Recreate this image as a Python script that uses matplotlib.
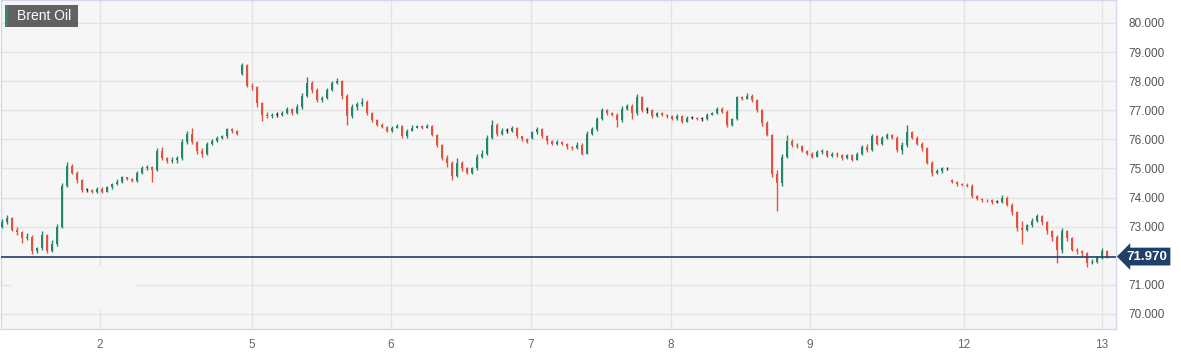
import numpy as np
import matplotlib
matplotlib.use("Agg")
import matplotlib.pyplot as plt
from matplotlib.patches import Rectangle
from matplotlib.transforms import blended_transform_factory

# 行情数据（读自原图，约每 5 像素一根 K 线）
opens = [
    73.0, 73.15, 73.3, 72.9, 72.8, 72.6, 72.65, 72.15, 72.25, 72.7,
    72.15, 72.4, 73.0, 74.4, 75.1, 74.85, 74.6, 74.25, 74.25, 74.2,
    74.3, 74.2, 74.35, 74.45, 74.55, 74.7, 74.65, 74.58, 74.85, 75.0,
    75.05, 74.95, 75.6, 75.35, 75.25, 75.3, 75.35, 75.9, 76.2, 75.9,
    75.6, 75.5, 75.85, 75.95, 76.05, 76.1, 76.35, 76.3, 78.25, 78.55,
    77.85, 77.8, 77.25, 76.85, 76.8, 76.85, 76.85, 76.9, 77.05, 76.9,
    77.1, 77.5, 77.95, 77.7, 77.35, 77.42, 77.7, 77.95, 78.0, 77.5,
    76.8, 77.1, 77.2, 77.3, 76.9, 76.65, 76.5, 76.42, 76.28, 76.4,
    76.45, 76.1, 76.3, 76.4, 76.45, 76.4, 76.45, 76.15, 75.8, 75.35,
    75.2, 74.75, 75.2, 75.0, 74.85, 75.0, 75.4, 75.5, 76.05, 76.5,
    76.2, 76.3, 76.3, 76.4, 76.1, 76.0, 76.05, 76.25, 76.35, 76.1,
    75.95, 75.85, 75.92, 75.85, 75.72, 75.7, 75.82, 75.5, 76.2, 76.35,
    76.7, 77.0, 76.9, 76.85, 76.65, 77.05, 77.15, 76.9, 77.45, 77.0,
    77.0, 76.8, 76.9, 76.85, 76.8, 76.7, 76.8, 76.6, 76.75, 76.75,
    76.7, 76.7, 76.85, 76.9, 77.05, 76.95, 76.5, 76.7, 77.45, 77.4,
    77.5, 77.35, 77.0, 76.55, 76.15, 74.8, 74.5, 75.4, 75.95, 75.8,
    75.78, 75.6, 75.5, 75.4, 75.55, 75.6, 75.42, 75.5, 75.45, 75.35,
    75.45, 75.3, 75.5, 75.75, 75.65, 76.1, 75.85, 76.05, 76.15, 76.05,
    75.65, 75.8, 76.25, 76.05, 75.85, 75.7, 75.2, 74.85, 74.9, 75.0,
    74.6, 74.55, 74.45, 74.42, 74.4, 74.05, 73.95, 73.92, 73.9, 73.85,
    73.85, 74.0, 73.75, 73.5, 72.95, 72.9, 73.05, 73.2, 73.35, 73.15,
    72.85, 72.65, 72.2, 72.85, 72.6, 72.2, 72.15, 72.1, 71.75, 71.8,
    71.95, 72.15,
]
closes = [
    73.15, 73.3, 72.9, 72.8, 72.6, 72.65, 72.15, 72.25, 72.7, 72.15,
    72.4, 73.0, 74.4, 75.1, 74.85, 74.6, 74.25, 74.25, 74.2, 74.3,
    74.2, 74.35, 74.45, 74.55, 74.7, 74.65, 74.58, 74.85, 75.0, 75.05,
    74.95, 75.6, 75.35, 75.25, 75.3, 75.35, 75.9, 76.2, 75.9, 75.6,
    75.5, 75.85, 75.95, 76.05, 76.1, 76.35, 76.3, 76.2, 78.55, 77.85,
    77.8, 77.25, 76.85, 76.8, 76.85, 76.85, 76.9, 77.05, 76.9, 77.1,
    77.5, 77.95, 77.7, 77.35, 77.42, 77.7, 77.95, 78.0, 77.5, 76.8,
    77.1, 77.2, 77.3, 76.9, 76.65, 76.5, 76.42, 76.28, 76.4, 76.45,
    76.1, 76.3, 76.4, 76.45, 76.4, 76.45, 76.15, 75.8, 75.35, 75.2,
    74.75, 75.2, 75.0, 74.85, 75.0, 75.4, 75.5, 76.05, 76.5, 76.2,
    76.3, 76.3, 76.4, 76.1, 76.0, 75.92, 76.25, 76.35, 76.1, 75.95,
    75.85, 75.92, 75.85, 75.72, 75.7, 75.82, 75.5, 76.2, 76.35, 76.7,
    77.0, 76.9, 76.85, 76.65, 77.05, 77.15, 76.9, 77.45, 77.0, 77.0,
    76.8, 76.9, 76.85, 76.8, 76.7, 76.8, 76.6, 76.75, 76.75, 76.7,
    76.7, 76.85, 76.9, 77.05, 76.95, 76.5, 76.7, 77.45, 77.4, 77.5,
    77.35, 77.0, 76.55, 76.15, 74.8, 74.5, 75.4, 75.95, 75.8, 75.78,
    75.6, 75.5, 75.4, 75.55, 75.6, 75.42, 75.5, 75.45, 75.35, 75.45,
    75.3, 75.5, 75.75, 75.65, 76.1, 75.85, 76.05, 76.15, 76.05, 75.65,
    75.8, 76.25, 76.05, 75.85, 75.7, 75.2, 74.85, 74.9, 75.0, 75.0,
    74.55, 74.45, 74.42, 74.4, 74.05, 73.95, 73.92, 73.9, 73.85, 73.85,
    74.0, 73.75, 73.5, 72.95, 72.9, 73.05, 73.2, 73.35, 73.15, 72.85,
    72.65, 72.2, 72.85, 72.6, 72.2, 72.15, 72.1, 71.75, 71.8, 71.95,
    72.15, 71.97,
]
highs = [
    73.25, 73.4, 73.32, 72.98, 72.85, 72.78, 72.7, 72.3, 72.85, 72.75,
    72.55, 73.1, 74.5, 75.22, 75.15, 74.9, 74.65, 74.32, 74.3, 74.35,
    74.35, 74.4, 74.5, 74.62, 74.75, 74.72, 74.68, 74.92, 75.08, 75.12,
    75.1, 75.7, 75.75, 75.4, 75.38, 75.42, 76.0, 76.28, 76.4, 75.95,
    75.7, 75.9, 76.0, 76.1, 76.15, 76.4, 76.38, 76.32, 78.62, 78.58,
    77.95, 77.85, 77.3, 76.95, 76.92, 76.95, 76.98, 77.12, 77.08, 77.2,
    77.58, 78.15, 78.0, 77.75, 77.48, 77.78, 78.02, 78.12, 78.05, 77.55,
    77.2, 77.3, 77.42, 77.35, 76.95, 76.7, 76.55, 76.46, 76.45, 76.52,
    76.5, 76.35, 76.48, 76.5, 76.48, 76.52, 76.48, 76.2, 75.85, 75.45,
    75.25, 75.35, 75.25, 75.05, 75.05, 75.5, 75.65, 76.15, 76.65, 76.55,
    76.38, 76.38, 76.45, 76.42, 76.12, 76.05, 76.3, 76.42, 76.38, 76.15,
    75.98, 75.98, 75.95, 75.88, 75.78, 75.9, 75.86, 76.3, 76.42, 76.78,
    77.08, 77.05, 76.95, 76.9, 77.15, 77.22, 77.2, 77.55, 77.5, 77.1,
    77.05, 76.95, 76.95, 76.88, 76.82, 76.88, 76.85, 76.8, 76.8, 76.78,
    76.76, 76.9, 76.95, 77.12, 77.1, 77.0, 76.75, 77.5, 77.5, 77.58,
    77.55, 77.4, 77.05, 76.62, 76.2, 74.95, 75.5, 76.15, 76.0, 75.88,
    75.82, 75.62, 75.55, 75.62, 75.68, 75.62, 75.55, 75.55, 75.5, 75.5,
    75.48, 75.55, 75.82, 75.85, 76.18, 76.15, 76.12, 76.22, 76.2, 76.1,
    75.9, 76.5, 76.3, 76.1, 75.9, 75.75, 75.25, 74.98, 75.05, 75.05,
    74.65, 74.58, 74.5, 74.5, 74.45, 74.08, 74.0, 73.96, 73.95, 73.92,
    74.1, 74.05, 73.8, 73.55, 73.2, 73.1, 73.28, 73.45, 73.4, 73.2,
    72.9, 72.7, 72.95, 72.9, 72.65, 72.25, 72.2, 72.12, 71.88, 72.0,
    72.25, 72.2,
]
lows = [
    72.95, 73.1, 72.85, 72.72, 72.45, 72.55, 72.05, 72.1, 72.2, 72.1,
    72.12, 72.35, 72.95, 74.35, 74.8, 74.5, 74.2, 74.18, 74.15, 74.15,
    74.15, 74.18, 74.3, 74.42, 74.5, 74.6, 74.52, 74.55, 74.8, 74.95,
    74.55, 74.9, 75.3, 75.2, 75.18, 75.2, 75.3, 75.85, 75.85, 75.5,
    75.38, 75.45, 75.8, 75.9, 76.0, 76.05, 76.22, 76.15, 78.2, 77.8,
    77.7, 77.1, 76.62, 76.72, 76.75, 76.78, 76.8, 76.88, 76.82, 76.88,
    77.05, 77.45, 77.6, 77.3, 77.3, 77.38, 77.65, 77.9, 77.4, 76.5,
    76.72, 77.0, 77.15, 76.85, 76.58, 76.45, 76.38, 76.25, 76.25, 76.38,
    76.05, 76.05, 76.28, 76.38, 76.35, 76.38, 76.1, 75.75, 75.3, 75.05,
    74.6, 74.7, 74.92, 74.8, 74.8, 74.95, 75.35, 75.45, 76.0, 76.1,
    76.15, 76.22, 76.25, 76.05, 75.95, 75.88, 76.0, 76.2, 76.05, 75.85,
    75.8, 75.82, 75.8, 75.68, 75.65, 75.66, 75.45, 75.48, 76.15, 76.3,
    76.65, 76.85, 76.8, 76.42, 76.6, 77.0, 76.7, 76.85, 76.95, 76.9,
    76.75, 76.78, 76.8, 76.72, 76.65, 76.68, 76.55, 76.58, 76.7, 76.65,
    76.64, 76.68, 76.82, 76.88, 76.9, 76.42, 76.45, 76.65, 77.35, 77.38,
    77.3, 76.95, 76.45, 76.1, 74.7, 73.55, 74.4, 75.35, 75.72, 75.7,
    75.55, 75.45, 75.35, 75.38, 75.5, 75.38, 75.38, 75.4, 75.3, 75.32,
    75.25, 75.28, 75.45, 75.55, 75.6, 75.8, 75.82, 76.0, 76.0, 75.55,
    75.5, 75.75, 76.0, 75.8, 75.6, 75.15, 74.75, 74.8, 74.85, 74.95,
    74.5, 74.4, 74.38, 74.35, 74.0, 73.9, 73.86, 73.85, 73.78, 73.8,
    73.82, 73.7, 73.4, 72.85, 72.4, 72.85, 73.0, 73.15, 73.05, 72.75,
    72.5, 71.75, 72.1, 72.5, 72.15, 72.05, 72.0, 71.6, 71.7, 71.75,
    71.9, 71.92,
]
day_labels = ["2", "5", "6", "7", "8", "9", "12", "13"]
day_pos = [19.6, 50, 77.8, 105.8, 133.8, 161.6, 192.4, 220]
# 72.000 被最新价标签遮住，不显示
y_ticks = [70, 71, 73, 74, 75, 76, 77, 78, 79, 80]
last_price = 71.970
title = "Brent Oil"

UP = "#24876b"
DOWN = "#e0533f"
DOJI = "#333333"
BG = "#f6f6f6"
NAVY = "#203f6b"

plt.rcParams["font.family"] = ["Liberation Sans", "DejaVu Sans"]

fig = plt.figure(figsize=(11.81, 3.55), dpi=100, facecolor="white")
W, H = 1181, 355
ax = fig.add_axes([1 / W, 26 / H, 1115 / W, 329 / H])
ax.set_facecolor(BG)

o = np.array(opens)
c = np.array(closes)
hi = np.array(highs)
lo = np.array(lows)
x = np.arange(len(c))
colors = np.where(c > o, UP, np.where(c < o, DOWN, DOJI))

# 影线 + 实体
ax.vlines(x, lo, hi, colors=colors, linewidth=1.0, zorder=3)
body_h = np.maximum(np.abs(c - o), 0.03)
ax.bar(x, body_h, bottom=np.minimum(o, c), width=0.55, color=colors,
       linewidth=0, zorder=4)

ax.set_xlim(-0.2, 222.8)
ax.set_ylim(69.48, 80.79)

# 网格
ax.set_yticks(y_ticks)
ax.set_yticklabels([f"{v:.3f}" for v in y_ticks])
ax.set_xticks(day_pos)
ax.set_xticklabels(day_labels)
ax.grid(True, color="#e3e3e3", linewidth=1, zorder=0)
ax.set_axisbelow(True)
ax.yaxis.tick_right()
ax.tick_params(axis="y", length=0, pad=9, labelsize=8.5, labelcolor="#555555")
ax.tick_params(axis="x", length=0, pad=7, labelsize=8.5, labelcolor="#666666")
for sp in ax.spines.values():
    sp.set_color("#d3d8ea")
    sp.set_linewidth(1)

# 水印区域（遮住部分网格）
ax.add_patch(Rectangle((10 / 1115, 20 / 329), 125 / 1115, 43 / 329,
                       transform=ax.transAxes, facecolor=BG,
                       edgecolor="none", zorder=1))

# 最新价横线与标签
ax.axhline(last_price, color=NAVY, linewidth=1.2, zorder=5)
tr = blended_transform_factory(ax.transAxes, ax.transData)
ax.text(1.0095, last_price, f"{last_price:.3f}", transform=tr,
        ha="left", va="center", fontsize=9.5, fontweight="bold", color="white",
        bbox=dict(boxstyle="larrow,pad=0.22", facecolor=NAVY, edgecolor="none"),
        clip_on=False, zorder=6)

# 左上角品种标签
fig.patches.append(Rectangle((5 / W, 1 - 27 / H), 73 / W, 22 / H,
                             transform=fig.transFigure, facecolor="#555555",
                             alpha=0.92, edgecolor="none", zorder=10))
fig.patches.append(Rectangle((5 / W, 1 - 27 / H), 2.5 / W, 22 / H,
                             transform=fig.transFigure, facecolor="#2f8a6c",
                             edgecolor="none", zorder=11))
fig.text(17 / W, 1 - 16 / H, title, ha="left", va="center",
         fontsize=10, color="white", zorder=12)

fig.savefig("out.png", dpi=100, facecolor="white")
